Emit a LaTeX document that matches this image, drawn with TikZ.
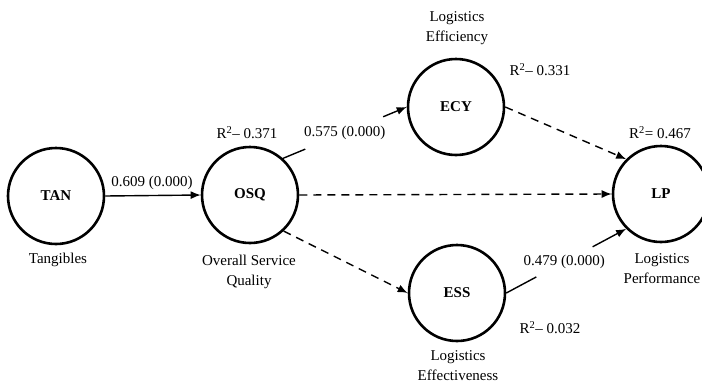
\documentclass[tikz,border=0pt]{standalone}
\usepackage{fontspec}
\setmainfont{Liberation Serif}
\usetikzlibrary{arrows.meta}
\begin{document}
\begin{tikzpicture}[x=1pt,y=-1pt,
  construct/.style={circle,draw,line width=2.6pt,minimum size=96pt,inner sep=0pt,
    font=\fontsize{15}{18}\selectfont\bfseries},
  caption/.style={align=center,inner sep=0pt,font=\fontsize{15}{20}\selectfont},
  link/.style={line width=1.4pt},
  tip/.style={-{Latex[length=10pt,width=8pt]}},
  weak/.style={link,tip,dash pattern=on 8pt off 6pt}]
\useasboundingbox (0,0) rectangle (702,386);
\clip (0,0) rectangle (702,386);

% latent constructs
\node[construct] (TAN) at (56,196) {TAN};
\node[construct] (OSQ) at (250,195) {OSQ};
\node[construct] (ECY) at (456,107) {ECY};
\node[construct] (ESS) at (457,293) {ESS};
\node[construct] (LP)  at (661,194) {LP};

% construct names
\node[caption] (tTAN) at (58,260) {Tangibles};
\node[caption] (tOSQ) at (249,272) {Overall Service\\Quality};
\node[caption] (tECY) at (457,28) {Logistics\\Efficiency};
\node[caption] (tESS) at (458,366) {Logistics\\Effectiveness};
\node[caption] (tLP)  at (662,269) {Logistics\\Performance};

% explained variance
\node[caption] (rOSQ) at (247,133) {R\textsuperscript{2}– 0.371};
\node[caption] (rECY) at (540,70) {R\textsuperscript{2}– 0.331};
\node[caption] (rESS) at (550,328) {R\textsuperscript{2}– 0.032};
\node[caption] (rLP)  at (660,133) {R\textsuperscript{2}= 0.467};

% significant paths
\draw[link,tip] (TAN.east) -- (OSQ.west);
\node[caption] (wTAN) at (152,183) {0.609 (0.000)};

\path (OSQ.48) -- (ECY.west)
  coordinate[pos=0.18] (eA) coordinate[pos=0.81] (eB)
  node[caption,pos=0.5] (wECY) {0.575 (0.000)};
\draw[link] (OSQ.48) -- (eA);
\draw[link,tip] (eB) -- (ECY.west);

\path (ESS.east) -- (LP.225)
  coordinate[pos=0.25] (sA) coordinate[pos=0.72] (sB)
  node[caption,pos=0.5,xshift=-2pt,yshift=-1pt] (wESS) {0.479 (0.000)};
\draw[link] (ESS.east) -- (sA);
\draw[link,tip] (sB) -- (LP.225);

% non-significant paths
\draw[weak] (OSQ.east) -- (LP.west);
\draw[weak] (OSQ.-47) -- (ESS.west);
\draw[weak] (ECY.east) -- (LP.135);
\end{tikzpicture}
\end{document}
